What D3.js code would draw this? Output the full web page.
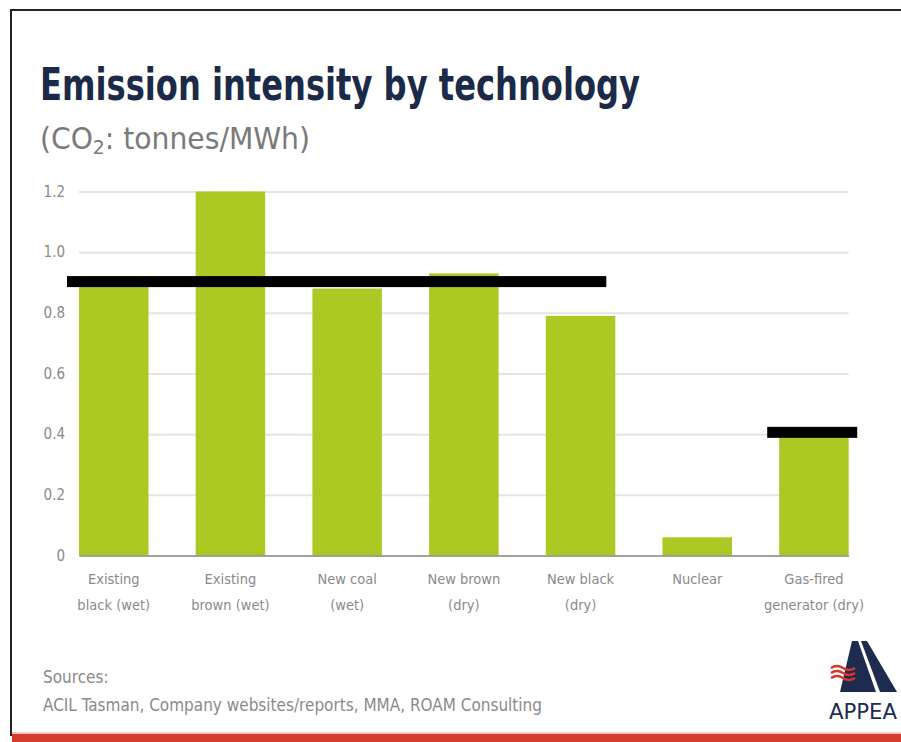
<!DOCTYPE html>
<html>
<head>
<meta charset="utf-8">
<script src="https://cdn.jsdelivr.net/npm/d3@7"></script>
<style>
  body { margin: 0; background: #fff; }
  svg { display: block; }
  .tick text { font-family: "DejaVu Sans Condensed", sans-serif; }
</style>
</head>
<body>
<div id="chart"></div>
<script>
// Chart data
const categories = ["Existing black (wet)", "Existing brown (wet)", "New coal (wet)",
  "New brown (dry)", "New black (dry)", "Nuclear", "Gas-fired generator (dry)"];
const labelLines = [["Existing", "black (wet)"], ["Existing", "brown (wet)"], ["New coal", "(wet)"],
  ["New brown", "(dry)"], ["New black", "(dry)"], ["Nuclear"], ["Gas-fired", "generator (dry)"]];
const intensity = [0.9, 1.2, 0.88, 0.93, 0.79, 0.06, 0.4];
const yTicks = [0, 0.2, 0.4, 0.6, 0.8, 1.0, 1.2];
const yTickLabels = ["0", "0.2", "0.4", "0.6", "0.8", "1.0", "1.2"];
// black marker bars drawn over the chart (value, first and last category index)
const markerValues = [0.903, 0.406];
const markerFrom = [0, 6];
const markerTo = [4, 6];

const W = 901, H = 742;
const font = "'DejaVu Sans Condensed', sans-serif";
const svg = d3.select("#chart").append("svg")
  .attr("width", W)
  .attr("height", H);

svg.append("rect").attr("width", W).attr("height", H).attr("fill", "#fff");

// Frame (top and left edges only)
svg.append("path")
  .attr("d", "M11,736 L11,10 L901,10")
  .attr("fill", "none")
  .attr("stroke", "#222")
  .attr("stroke-width", 2);

// Red strip at the bottom
svg.append("rect")
  .attr("x", 12).attr("y", 734)
  .attr("width", W - 12).attr("height", 8)
  .attr("fill", "#d33b2c");
svg.append("rect")
  .attr("x", 12).attr("y", 732)
  .attr("width", W - 12).attr("height", 2)
  .attr("fill", "#f3c9c2");

// Title & subtitle
svg.append("text")
  .attr("x", 40).attr("y", 100)
  .attr("font-family", font)
  .attr("font-weight", "bold")
  .attr("font-size", 44)
  .attr("fill", "#1b2a48")
  .attr("textLength", 600)
  .attr("lengthAdjust", "spacingAndGlyphs")
  .text("Emission intensity by technology");

let sub = svg.append("text")
  .attr("x", 40).attr("y", 149)
  .attr("font-family", font)
  .attr("font-size", 30)
  .attr("fill", "#7a7a7a")
  .attr("textLength", 270)
  .attr("lengthAdjust", "spacingAndGlyphs");
sub.append("tspan").text("(CO");
sub.append("tspan").attr("font-size", 20).attr("dy", 5).text("2");
sub.append("tspan").attr("dy", -5).text(": tonnes/MWh)");

// Scales
const x = d3.scaleBand()
  .domain(categories)
  .range([79, 848.7])
  .paddingInner(0.4045)
  .paddingOuter(0);
const y = d3.scaleLinear().domain([0, 1.2]).range([555.5, 191.5]);

// Y axis with gridlines
const yAxis = svg.append("g")
  .attr("transform", "translate(79,0)")
  .call(d3.axisLeft(y)
    .tickValues(yTicks)
    .tickFormat((d, i) => yTickLabels[i])
    .tickSize(-(848.7 - 79))
    .tickPadding(14));
yAxis.select(".domain").remove();
yAxis.selectAll(".tick line").attr("stroke", "#e4e4e4").attr("stroke-width", 2);
yAxis.selectAll(".tick text").attr("font-size", 15).attr("fill", "#8a8a8a");

// Bars
svg.append("g").selectAll("rect")
  .data(intensity)
  .join("rect")
  .attr("x", (d, i) => x(categories[i]))
  .attr("y", d => y(d))
  .attr("width", x.bandwidth())
  .attr("height", d => y(0) - y(d))
  .attr("fill", "#aac923");

// X axis baseline + labels
const xAxis = svg.append("g")
  .attr("transform", "translate(0," + y(0) + ")")
  .call(d3.axisBottom(x).tickSize(0).tickFormat(""));
xAxis.select(".domain").attr("stroke", "#8c8c8c").attr("stroke-width", 1.5);
xAxis.selectAll(".tick").each(function (d, i) {
  let t = d3.select(this).select("text")
    .attr("y", 0)
    .attr("dy", null)
    .attr("font-size", 14.5)
    .attr("fill", "#8a8a8a");
  labelLines[i].forEach((line, j) => {
    t.append("tspan")
      .attr("x", 0)
      .attr("y", 28 + j * 26)
      .text(line);
  });
});

// Black marker bars
const markers = svg.append("g");
markerValues.forEach((v, i) => {
  let x0 = x(categories[markerFrom[i]]) - 12;
  let x1 = markerTo[i] === 6 ? x(categories[markerTo[i]]) + x.bandwidth() + 8.5
    : x(categories[markerTo[i]]) + x.bandwidth() - 9;
  markers.append("rect")
    .attr("x", x0)
    .attr("y", y(v) - 5.5)
    .attr("width", x1 - x0)
    .attr("height", 11)
    .attr("fill", "#000");
});

// Sources
const foot = svg.append("g")
  .attr("font-family", font)
  .attr("font-size", 17)
  .attr("fill", "#8a8a8a");
foot.append("text").attr("x", 43).attr("y", 683).text("Sources:");
foot.append("text").attr("x", 43).attr("y", 711)
  .attr("textLength", 499).attr("lengthAdjust", "spacingAndGlyphs")
  .text("ACIL Tasman, Company websites/reports, MMA, ROAM Consulting");

// APPEA logo
const logo = svg.append("g");
logo.append("polygon")
  .attr("points", "852,641 858,641 876,692 840,692")
  .attr("fill", "#1c2b4e");
logo.append("polygon")
  .attr("points", "861,641 867,641 897,692 880,692")
  .attr("fill", "#1c2b4e");
[668, 673, 678].forEach(yy => {
  logo.append("path")
    .attr("d", "M831," + yy + " q6,-4 12,0 t12,0")
    .attr("fill", "none")
    .attr("stroke", "#d8362a")
    .attr("stroke-width", 2.4);
});
logo.append("text")
  .attr("x", 829).attr("y", 719)
  .attr("font-family", font)
  .attr("font-size", 21)
  .attr("fill", "#1c2b4e")
  .attr("textLength", 68)
  .attr("lengthAdjust", "spacingAndGlyphs")
  .text("APPEA");
</script>
</body>
</html>
